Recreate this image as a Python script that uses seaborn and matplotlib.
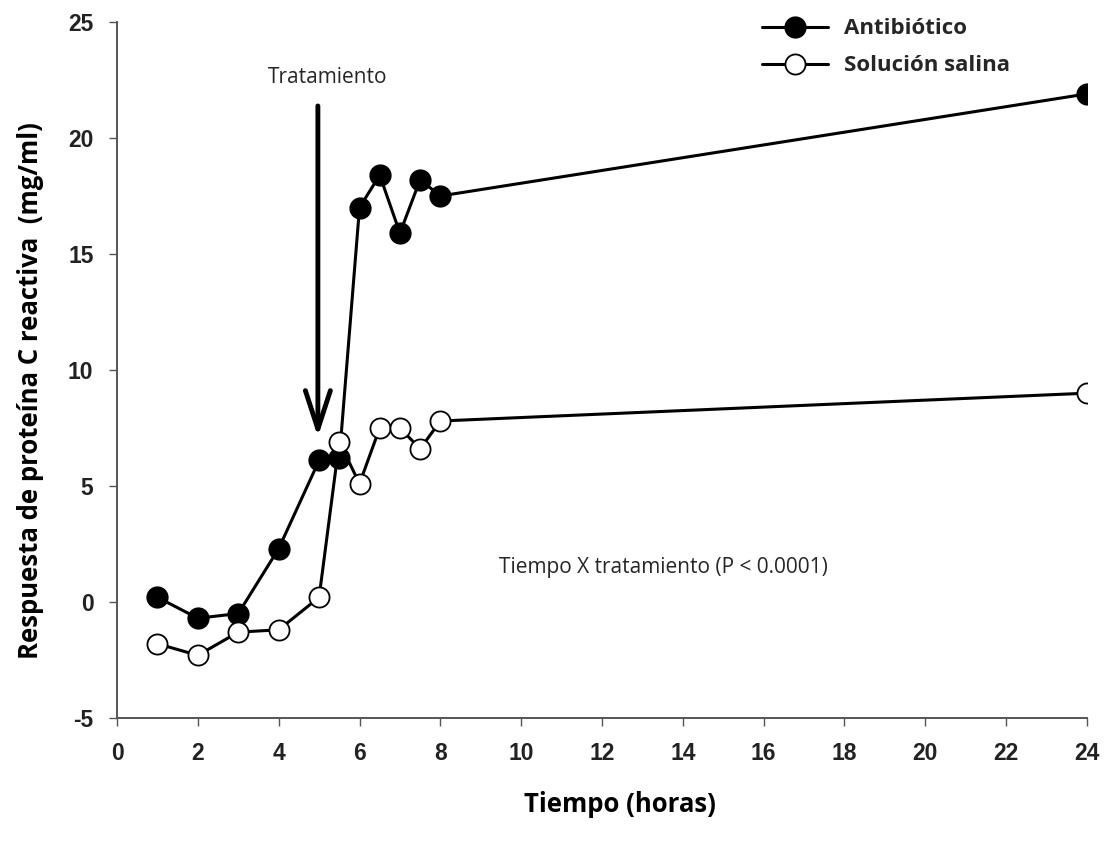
import matplotlib
matplotlib.use("Agg")
import matplotlib.pyplot as plt
import seaborn as sns
import pandas as pd

# Sampling times (hours)
horas = [1, 2, 3, 4, 5, 5.5, 6, 6.5, 7, 7.5, 8, 24]
# C-reactive protein response (mg/ml)
antibiotico = [0.2, -0.7, -0.5, 2.3, 6.1, 6.2, 17.0, 18.4, 15.9, 18.2, 17.5, 21.9]
salina = [-1.8, -2.3, -1.3, -1.2, 0.2, 6.9, 5.1, 7.5, 7.5, 6.6, 7.8, 9.0]

x_ticks = list(range(0, 25, 2))
y_ticks = [-5, 0, 5, 10, 15, 20, 25]

sns.set_theme(style="ticks")
plt.rcParams["font.family"] = ["Liberation Sans", "DejaVu Sans"]

fig = plt.figure(figsize=(11.05, 8.42), dpi=100)
ax = fig.add_axes([0.1059, 0.1473, 0.8778, 0.8266])

df_a = pd.DataFrame({"t": horas, "v": antibiotico})
df_s = pd.DataFrame({"t": horas, "v": salina})

sns.lineplot(data=df_a, x="t", y="v", ax=ax, color="black", lw=2.2,
             marker="o", markersize=14.5, markerfacecolor="black",
             markeredgecolor="black", markeredgewidth=1.5,
             label="Antibiótico", zorder=3)
sns.lineplot(data=df_s, x="t", y="v", ax=ax, color="black", lw=2.2,
             marker="o", markersize=14.5, markerfacecolor="white",
             markeredgecolor="black", markeredgewidth=1.3,
             label="Solución salina", zorder=4)

ax.set_xlim(0, 24)
ax.set_ylim(-5, 25)
ax.set_xticks(x_ticks)
ax.set_yticks(y_ticks)
ax.set_xticklabels([str(t) for t in x_ticks])
ax.set_yticklabels([str(t) for t in y_ticks])

sns.despine(ax=ax)
for side in ("left", "bottom"):
    ax.spines[side].set_color("#555555")
    ax.spines[side].set_linewidth(1.4)
ax.tick_params(axis="y", direction="out", length=6, width=1, color="#555555",
               pad=11, labelsize=16.5)
ax.tick_params(axis="x", direction="out", length=6, width=1, color="#555555",
               pad=11, labelsize=16.5)
for lab in ax.get_xticklabels() + ax.get_yticklabels():
    lab.set_fontweight("bold")
    lab.set_color("#222222")

label_font = dict(family=["Open Sans", "DejaVu Sans"], fontsize=18.5,
                  fontweight="bold", color="black")
ax.set_xlabel("Tiempo (horas)", **label_font)
ax.set_ylabel("Respuesta de proteína C reactiva  (mg/ml)", **label_font)
ax.xaxis.set_label_coords(0.519, -0.125)
ax.xaxis.label.set_verticalalignment("center")
ax.yaxis.set_label_coords(-0.089, 0.471)
ax.yaxis.label.set_verticalalignment("center")

# Treatment arrow
ax.annotate("", xy=(4.97, 7.0), xytext=(4.97, 21.5),
            arrowprops=dict(arrowstyle="->,head_length=2.3,head_width=0.75",
                            color="black", lw=3.5))
ax.text(5.2, 22.6, "Tratamiento", ha="center", va="center", fontsize=15,
        family=["Open Sans", "DejaVu Sans"])
ax.text(9.45, 1.47, "Tiempo X tratamiento (P < 0.0001)", ha="left",
        va="center", fontsize=15, family=["Open Sans", "DejaVu Sans"])

leg = ax.legend(loc="upper left", bbox_to_anchor=(0.644, 1.034),
                frameon=False, handlelength=3.0, handletextpad=0.7,
                labelspacing=0.72,
                prop=dict(family=["Open Sans", "DejaVu Sans"], weight="bold",
                          size=16))

fig.savefig("out.png", dpi=100, facecolor="white")
